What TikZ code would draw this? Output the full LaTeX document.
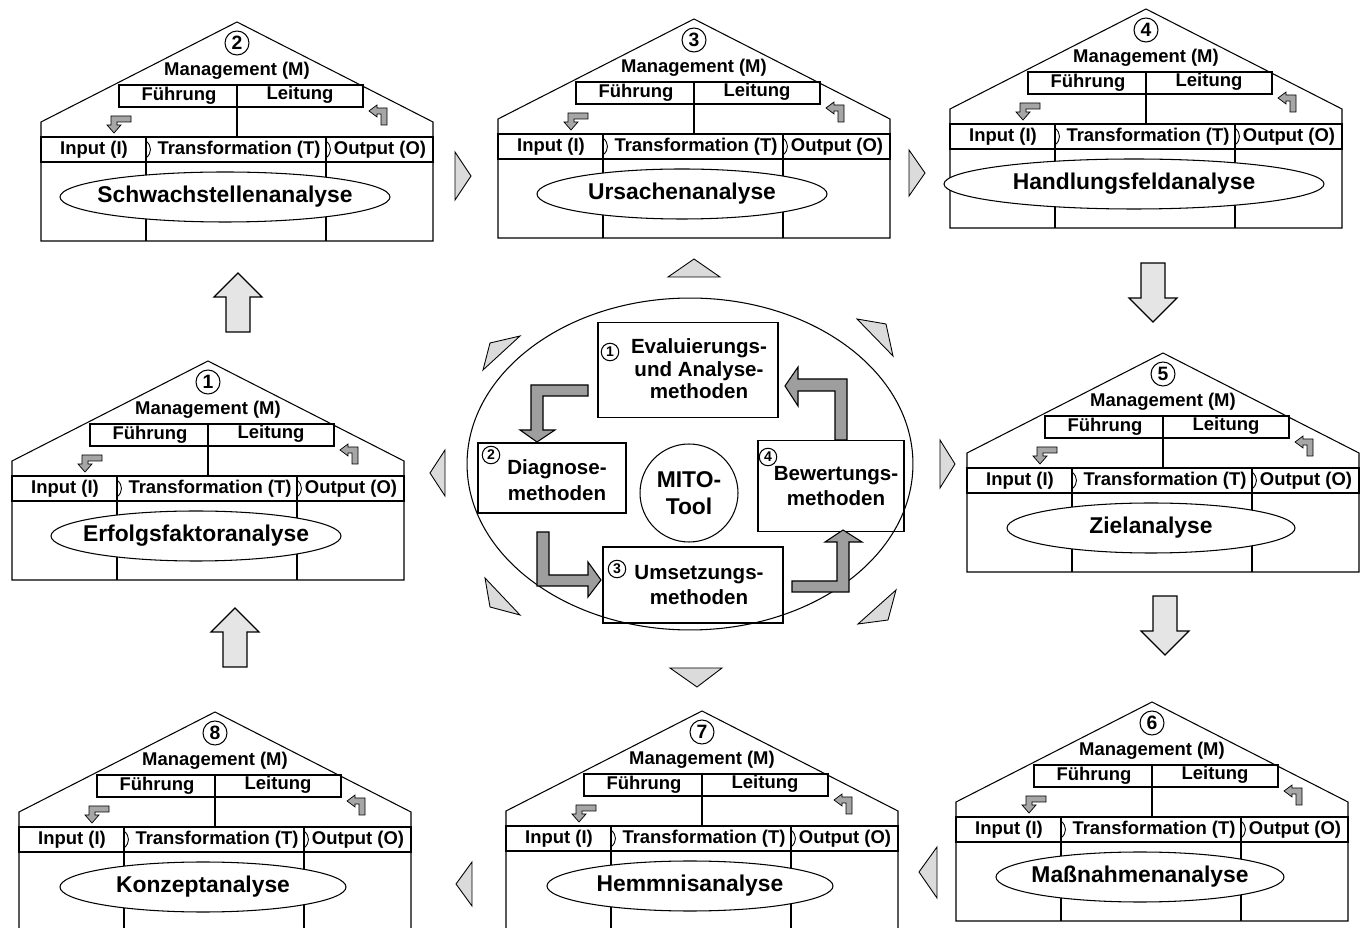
\documentclass[tikz,border=0pt]{standalone}
\usepackage{fontspec}
\setmainfont{Liberation Sans}
\usetikzlibrary{shapes.geometric}

% one house: name, centre x, top of the I/T/O row, number, label, ellipse half width
\newcommand{\mitohouse}[6]{%
  \begin{scope}[shift={(#2,#3)}]
    \draw (-196,104) -- (-196,-15) -- (0,-115) -- (196,-15) -- (196,104) -- cycle;
    \node[num circle] (#1-num) at (0,-94) {#4};
    \node[house text] (#1-m) at (0,-66) {Management (M)};
    \draw (-118,-52) rectangle (126,-30);
    \draw (0,-52) -- (0,0);
    \node[house text] (#1-f) at (-58,-41) {Führung};
    \node[house text] (#1-l) at (63,-42) {Leitung};
    \draw (-196,0) rectangle (196,25);
    \draw (-91,0) -- (-91,104) (89,0) -- (89,104);
    \draw[line width=0.5pt] (-91,4) .. controls (-85,9) and (-85,16) .. (-91,21);
    \draw[line width=0.5pt] (89,4) .. controls (95,9) and (95,16) .. (89,21);
    \node[house text] (#1-i) at (-143,13) {Input (I)};
    \node[house text] (#1-t) at (2,13) {Transformation (T)};
    \node[house text] (#1-o) at (143,13) {Output (O)};
    \coordinate (#1-c) at (-12,60);
    \draw[fill=white] (#1-c) ellipse [x radius=#6, y radius=25];
    \node[label text] (#1-e) at (#1-c) {#5};
    \draw[small arrow] (-106,-21) -- (-126,-21) -- (-126,-12) -- (-130,-12) -- (-123,-4)
      -- (-116,-12) -- (-120,-12) -- (-120,-15) -- (-106,-15) -- cycle;
    \draw[small arrow] (132,-26) -- (140,-32) -- (140,-29) -- (150,-29) -- (150,-12)
      -- (144,-12) -- (144,-23) -- (140,-23) -- (140,-20) -- cycle;
  \end{scope}}

% big block arrow with its tip at (#1,#2), turned by #3
\newcommand{\bigarrow}[3]{%
  \begin{scope}[shift={(#1,#2)},rotate=#3]
    \draw[block arrow] (0,0) -- (24,24) -- (12,24) -- (12,59) -- (-12,59) -- (-12,24) -- (-24,24) -- cycle;
  \end{scope}}

\begin{document}
\begin{tikzpicture}[x=0.02cm,y=-0.02cm,line width=0.6pt,
    house text/.style={font=\fontsize{10.5}{12}\selectfont\bfseries,inner sep=0pt},
    label text/.style={font=\fontsize{13}{15}\selectfont\bfseries,inner sep=0pt},
    num circle/.style={circle,draw,minimum size=0.48cm,inner sep=0pt,font=\fontsize{11}{11}\selectfont\bfseries},
    small num/.style={circle,draw,minimum size=0.35cm,inner sep=0pt,font=\fontsize{8}{8}\selectfont\bfseries},
    method box/.style={rectangle,draw,inner sep=0pt},
    box text/.style={align=center,inner sep=0pt,font=\fontsize{11.7}{14.5}\selectfont\bfseries},
    small arrow/.style={draw,line width=0.4pt,fill=black!35},
    bent arrow/.style={draw,line width=0.6pt,fill=black!38},
    flow tip/.style={draw,line width=0.5pt,fill=black!14},
    block arrow/.style={draw,line width=0.7pt,fill=black!10}]

  \useasboundingbox (0,0) rectangle (1363,928);
  \clip (0,0) rectangle (1363,928);

  % the eight houses
  \mitohouse{h1}{208}{476}{1}{Erfolgsfaktoranalyse}{145}
  \mitohouse{h2}{237}{137}{2}{Schwachstellenanalyse}{165}
  \mitohouse{h3}{694}{134}{3}{Ursachenanalyse}{145}
  \mitohouse{h4}{1146}{124}{4}{Handlungsfeldanalyse}{190}
  \mitohouse{h5}{1163}{468}{5}{Zielanalyse}{144}
  \mitohouse{h6}{1152}{817}{6}{Maßnahmenanalyse}{144}
  \mitohouse{h7}{702}{826}{7}{Hemmnisanalyse}{143}
  \mitohouse{h8}{215}{827}{8}{Konzeptanalyse}{143}

  % arrows between the houses
  \bigarrow{238}{273}{0}
  \bigarrow{235}{608}{0}
  \bigarrow{1153}{322}{180}
  \bigarrow{1165}{655}{180}
  \draw[flow tip] (455,152) -- (471,176) -- (455,200) -- cycle;
  \draw[flow tip] (909,150) -- (925,173) -- (909,196) -- cycle;
  \draw[flow tip] (937,847) -- (919,872) -- (937,898) -- cycle;
  \draw[flow tip] (472,862) -- (456,884) -- (472,906) -- cycle;

  % tips round the tool
  \draw[flow tip] (668,277) -- (694,259) -- (720,277) -- cycle;
  \draw[flow tip] (670,668) -- (722,668) -- (697,687) -- cycle;
  \draw[flow tip] (445,450) -- (430,473) -- (445,496) -- cycle;
  \draw[flow tip] (940,440) -- (955,464) -- (940,488) -- cycle;
  \draw[flow tip] (483,370) -- (520,336) -- (490,343) -- cycle;
  \draw[flow tip] (857,319) -- (886,324) -- (893,356) -- cycle;
  \draw[flow tip] (485,578) -- (490,607) -- (520,615) -- cycle;
  \draw[flow tip] (896,590) -- (888,620) -- (858,624) -- cycle;

  % MITO tool
  \node[draw,ellipse,minimum width=8.92cm,minimum height=6.64cm] (ring) at (690,464) {};
  \node[method box,minimum width=3.6cm,minimum height=1.9cm] (eval) at (688,370) {};
  \node[method box,minimum width=2.96cm,minimum height=1.4cm] (diag) at (552,478) {};
  \node[method box,minimum width=3.6cm,minimum height=1.52cm] (umset) at (693,585) {};
  \node[method box,minimum width=2.92cm,minimum height=1.82cm] (bewert) at (831,486) {};
  \node[box text,font=\fontsize{11.7}{12.8}\selectfont\bfseries] (eval-t) at (699,369) {Evaluierungs-\\und Analyse-\\methoden};
  \node[box text] (diag-t) at (557,480) {Diagnose-\\methoden};
  \node[box text] (umset-t) at (699,585) {Umsetzungs-\\methoden};
  \node[box text] (bewert-t) at (836,486) {Bewertungs-\\methoden};
  \node[circle,draw,minimum size=1.96cm,inner sep=0pt,align=center,font=\fontsize{13}{15}\selectfont\bfseries] (mito) at (689,493) {MITO-\\Tool};
  \node[small num] (n1) at (610,352) {1};
  \node[small num] (n2) at (491,455) {2};
  \node[small num] (n3) at (617,569) {3};
  \node[small num] (n4) at (768,457) {4};

  \draw[bent arrow] (588,385) -- (531,385) -- (531,430) -- (520,430) -- (537,442) -- (555,430)
    -- (543,430) -- (543,396) -- (588,396) -- cycle;
  \draw[bent arrow] (537,532) -- (549,532) -- (549,575) -- (588,575) -- (588,562) -- (601,580)
    -- (588,597) -- (588,586) -- (537,586) -- cycle;
  \draw[bent arrow] (792,581) -- (837,581) -- (837,542) -- (825,542) -- (843,530) -- (862,542)
    -- (849,542) -- (849,592) -- (792,592) -- cycle;
  \draw[bent arrow] (835,440) -- (835,391) -- (798,391) -- (798,406) -- (785,386) -- (798,367)
    -- (798,379) -- (847,379) -- (847,440) -- cycle;
\end{tikzpicture}
\end{document}
